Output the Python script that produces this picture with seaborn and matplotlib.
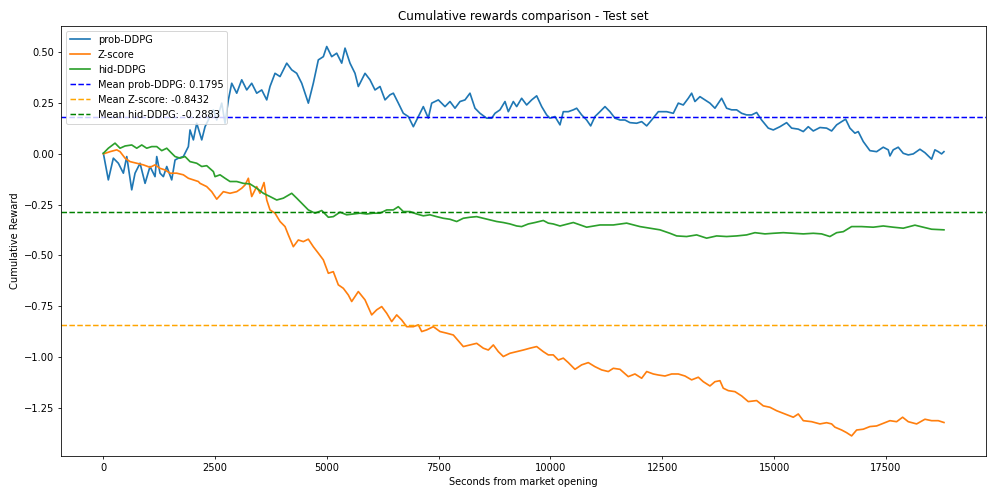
import matplotlib
matplotlib.use("Agg")
import matplotlib.pyplot as plt
import seaborn as sns
import pandas as pd

# ---- data ----
prob_x = [7, 118, 230, 342, 454, 530, 641, 715, 827, 939, 1050, 1162, 1200, 1274, 1348, 1424,
          1535, 1609, 1684, 1795, 1907, 1944, 2019, 2094, 2206, 2280, 2354, 2466, 2541, 2653,
          2727, 2801, 2876, 2988, 3100, 3212, 3323, 3435, 3547, 3659, 3732, 3844, 3956, 4106,
          4217, 4329, 4441, 4589, 4700, 4812, 4924, 5000, 5111, 5223, 5335, 5409, 5520, 5632,
          5706, 5744, 5856, 5967, 6079, 6191, 6303, 6414, 6489, 6601, 6712, 6824, 6936, 7048,
          7159, 7271, 7346, 7495, 7644, 7755, 7867, 7979, 8091, 8202, 8314, 8426, 8575, 8687,
          8761, 8873, 8985, 9059, 9171, 9246, 9357, 9469, 9581, 9693, 9805, 9916, 9990, 10102,
          10214, 10288, 10400, 10512, 10587, 10699, 10810, 10900, 10996, 11108, 11220, 11331,
          11443, 11555, 11667, 11778, 11928, 12040, 12152, 12263, 12412, 12449, 12598, 12747,
          12859, 12970, 13082, 13157, 13231, 13343, 13455, 13566, 13678, 13827, 13939, 14051,
          14163, 14274, 14386, 14498, 14610, 14721, 14870, 14982, 15131, 15280, 15392, 15541,
          15653, 15764, 15876, 16025, 16174, 16286, 16398, 16510, 16599, 16695, 16807, 16881,
          16993, 17142, 17292, 17440, 17552, 17590, 17663, 17775, 17887, 17999, 18111, 18260,
          18372, 18521, 18595, 18670, 18744, 18797]
prob_y = [0.003, -0.128, -0.021, -0.046, -0.095, -0.013, -0.177, -0.095, -0.046, -0.145, -0.062,
          -0.112, -0.013, -0.095, -0.112, -0.062, -0.128, -0.030, -0.021, -0.013, 0.036, 0.118,
          0.069, 0.151, 0.069, 0.134, 0.167, 0.217, 0.167, 0.250, 0.151, 0.266, 0.348, 0.299,
          0.365, 0.315, 0.348, 0.299, 0.315, 0.266, 0.332, 0.397, 0.381, 0.447, 0.414, 0.397,
          0.348, 0.250, 0.348, 0.463, 0.479, 0.529, 0.479, 0.496, 0.447, 0.521, 0.447, 0.397,
          0.332, 0.348, 0.397, 0.365, 0.315, 0.332, 0.266, 0.291, 0.299, 0.250, 0.200, 0.184,
          0.134, 0.184, 0.233, 0.176, 0.250, 0.266, 0.233, 0.258, 0.225, 0.258, 0.266, 0.299,
          0.225, 0.200, 0.176, 0.176, 0.200, 0.217, 0.258, 0.208, 0.258, 0.233, 0.274, 0.241,
          0.266, 0.286, 0.233, 0.192, 0.176, 0.184, 0.143, 0.208, 0.208, 0.217, 0.225, 0.192,
          0.167, 0.138, 0.184, 0.208, 0.233, 0.208, 0.176, 0.167, 0.167, 0.154, 0.151, 0.159,
          0.138, 0.167, 0.208, 0.208, 0.208, 0.200, 0.250, 0.241, 0.274, 0.299, 0.258, 0.282,
          0.266, 0.250, 0.225, 0.274, 0.225, 0.217, 0.217, 0.200, 0.192, 0.192, 0.204, 0.167,
          0.127, 0.118, 0.134, 0.154, 0.127, 0.122, 0.110, 0.134, 0.113, 0.130, 0.127, 0.113,
          0.143, 0.159, 0.171, 0.127, 0.102, 0.110, 0.061, 0.016, 0.011, 0.033, 0.020, -0.010,
          0.020, 0.033, 0.003, -0.005, 0.000, 0.023, 0.006, -0.026, 0.020, 0.011, 0.000, 0.011]

zscore_x = [7, 156, 306, 380, 492, 603, 753, 901, 1050, 1162, 1274, 1386, 1497, 1647, 1795, 1907,
            2019, 2130, 2168, 2317, 2429, 2541, 2689, 2838, 2988, 3100, 3174, 3248, 3323, 3435,
            3509, 3598, 3659, 3732, 3844, 3956, 4068, 4142, 4253, 4365, 4477, 4589, 4700, 4812,
            4924, 5036, 5147, 5259, 5371, 5483, 5558, 5706, 5856, 6005, 6117, 6229, 6341, 6452,
            6564, 6676, 6787, 6936, 7048, 7123, 7234, 7383, 7532, 7681, 7830, 8053, 8202, 8352,
            8500, 8612, 8724, 8836, 8947, 9096, 9246, 9394, 9543, 9693, 9841, 9953, 10064, 10176,
            10288, 10400, 10549, 10699, 10847, 10996, 11146, 11294, 11406, 11555, 11741, 11890,
            12040, 12152, 12300, 12412, 12561, 12710, 12859, 13008, 13157, 13306, 13417, 13566,
            13678, 13790, 13864, 13976, 14125, 14274, 14423, 14610, 14758, 14907, 15057, 15243,
            15429, 15541, 15653, 15839, 16025, 16174, 16286, 16360, 16510, 16621, 16733, 16845,
            16993, 17142, 17292, 17440, 17590, 17739, 17873, 17999, 18186, 18372, 18521, 18670,
            18797]
zscore_y = [0.000, 0.011, 0.020, 0.011, -0.021, -0.038, -0.046, -0.054, -0.066, -0.054, -0.071,
            -0.079, -0.095, -0.095, -0.103, -0.120, -0.128, -0.136, -0.145, -0.161, -0.186, -0.223,
            -0.186, -0.194, -0.186, -0.169, -0.153, -0.120, -0.210, -0.161, -0.194, -0.141, -0.227,
            -0.276, -0.292, -0.333, -0.358, -0.399, -0.457, -0.424, -0.432, -0.420, -0.457, -0.489,
            -0.522, -0.588, -0.580, -0.645, -0.662, -0.695, -0.727, -0.678, -0.719, -0.793, -0.768,
            -0.752, -0.785, -0.826, -0.793, -0.818, -0.851, -0.851, -0.842, -0.875, -0.867, -0.851,
            -0.875, -0.883, -0.892, -0.949, -0.941, -0.933, -0.957, -0.966, -0.941, -0.974, -0.998,
            -0.982, -0.974, -0.966, -0.957, -0.949, -0.974, -0.990, -0.990, -1.015, -1.006, -1.028,
            -1.061, -1.039, -1.028, -1.048, -1.064, -1.072, -1.056, -1.061, -1.097, -1.084, -1.105,
            -1.072, -1.084, -1.089, -1.094, -1.084, -1.084, -1.094, -1.113, -1.100, -1.122, -1.143,
            -1.122, -1.117, -1.154, -1.166, -1.171, -1.192, -1.220, -1.215, -1.241, -1.248, -1.265,
            -1.281, -1.297, -1.281, -1.314, -1.319, -1.330, -1.324, -1.330, -1.346, -1.360, -1.373,
            -1.389, -1.360, -1.356, -1.343, -1.340, -1.327, -1.314, -1.319, -1.297, -1.319, -1.330,
            -1.307, -1.314, -1.314, -1.323]

hid_x = [7, 118, 268, 380, 492, 641, 753, 865, 976, 1088, 1200, 1312, 1424, 1535, 1609, 1721,
         1833, 1944, 2094, 2206, 2317, 2466, 2503, 2615, 2727, 2838, 2988, 3136, 3285, 3435,
         3583, 3732, 3882, 4030, 4217, 4329, 4441, 4589, 4738, 4888, 5036, 5147, 5297, 5447,
         5594, 5744, 5894, 6041, 6191, 6341, 6488, 6600, 6712, 6861, 7011, 7159, 7308, 7458,
         7606, 7755, 7905, 8053, 8202, 8352, 8500, 8649, 8799, 8947, 9096, 9246, 9357, 9506,
         9655, 9841, 9953, 10064, 10214, 10512, 10810, 11108, 11406, 11704, 12002, 12225, 12449,
         12672, 12822, 13045, 13269, 13492, 13716, 13939, 14163, 14386, 14572, 14796, 14982,
         15205, 15429, 15653, 15876, 16062, 16248, 16398, 16547, 16733, 16957, 17217, 17440,
         17663, 17887, 18148, 18334, 18521, 18797]
hid_y = [0.003, 0.028, 0.053, 0.028, 0.039, 0.044, 0.028, 0.044, 0.028, 0.036, 0.036, 0.016,
         0.028, 0.003, -0.013, -0.021, -0.013, -0.038, -0.046, -0.062, -0.058, -0.087, -0.112,
         -0.103, -0.120, -0.136, -0.136, -0.145, -0.148, -0.169, -0.194, -0.210, -0.227, -0.218,
         -0.194, -0.218, -0.243, -0.276, -0.292, -0.279, -0.312, -0.309, -0.287, -0.300, -0.296,
         -0.292, -0.296, -0.292, -0.292, -0.276, -0.276, -0.260, -0.284, -0.284, -0.296, -0.305,
         -0.300, -0.309, -0.317, -0.322, -0.333, -0.317, -0.312, -0.309, -0.317, -0.325, -0.333,
         -0.338, -0.345, -0.355, -0.358, -0.345, -0.338, -0.328, -0.341, -0.345, -0.355, -0.338,
         -0.361, -0.350, -0.350, -0.341, -0.358, -0.366, -0.374, -0.391, -0.404, -0.407, -0.399,
         -0.415, -0.404, -0.407, -0.404, -0.399, -0.388, -0.394, -0.391, -0.388, -0.391, -0.394,
         -0.391, -0.394, -0.407, -0.388, -0.383, -0.358, -0.358, -0.361, -0.355, -0.361, -0.366,
         -0.351, -0.361, -0.371, -0.374]

series_names = ["prob-DDPG", "Z-score", "hid-DDPG"]
series_colors = ["#1f77b4", "#ff7f0e", "#2ca02c"]
mean_values = [0.1795, -0.8432, -0.2883]
mean_colors = ["blue", "orange", "green"]

# ---- figure ----
DPI = 71.5
fig = plt.figure(figsize=(997 / DPI, 498 / DPI), dpi=DPI)
ax = fig.add_axes([61 / 997, 1 - 456 / 498, (986 - 61) / 997, (456 - 26) / 498])

for name, xs, ys, col in zip(series_names, [prob_x, zscore_x, hid_x],
                             [prob_y, zscore_y, hid_y], series_colors):
    df = pd.DataFrame({"x": xs, "y": ys})
    sns.lineplot(data=df, x="x", y="y", ax=ax, color=col, label=name,
                 estimator=None, sort=False, linewidth=1.7)

for name, m, col in zip(series_names, mean_values, mean_colors):
    ax.axhline(m, color=col, linestyle="--", linewidth=1.5,
               label=f"Mean {name}: {m:.4f}")

ax.set_xlim(-940, 19737)
ax.set_ylim(-1.488, 0.630)
ax.set_xticks([0, 2500, 5000, 7500, 10000, 12500, 15000, 17500])
ax.set_yticks([-1.25, -1.0, -0.75, -0.5, -0.25, 0.0, 0.25, 0.5])
ax.set_title("Cumulative rewards comparison - Test set", fontsize=12)
ax.set_xlabel("Seconds from market opening", fontsize=10)
ax.set_ylabel("Cumulative Reward", fontsize=10)
ax.tick_params(labelsize=10)
ax.legend(loc="upper left", fontsize=10)

fig.savefig("out.png", dpi=DPI)
